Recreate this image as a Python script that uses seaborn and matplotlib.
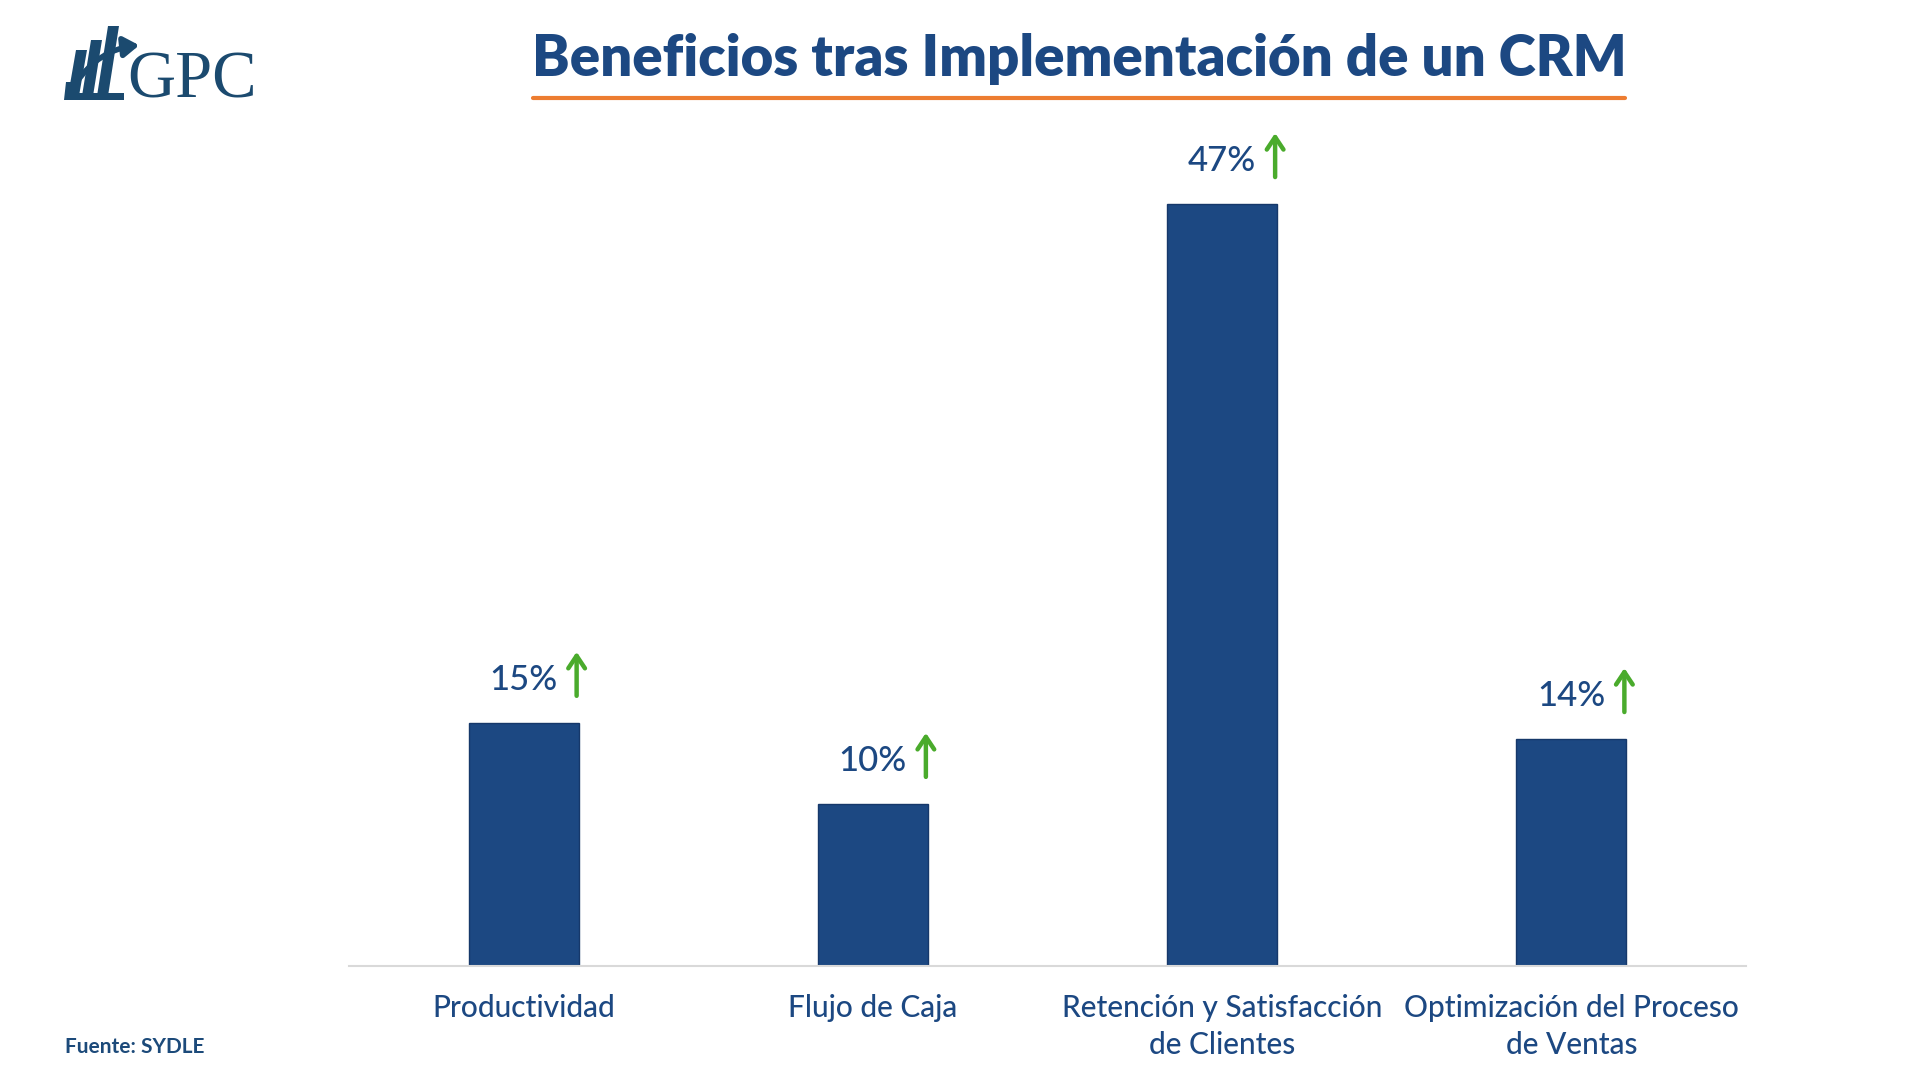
import numpy as np
import pandas as pd
import matplotlib.pyplot as plt
import seaborn as sns
from matplotlib.patches import Polygon, FancyArrowPatch
from matplotlib.lines import Line2D

# Data
categorias = ["Productividad", "Flujo de Caja",
              "Retención y Satisfacción\nde Clientes",
              "Optimización del Proceso\nde Ventas"]
valores = [15, 10, 47, 14]
etiquetas = ["15%", "10%", "47%", "14%"]

titulo = "Beneficios tras Implementación de un CRM"
fuente = "Fuente: SYDLE"

azul = "#1c4882"
verde = "#4aab2c"
naranja = "#ed7d31"
logo_col = "#1b4a6f"

sns.set_theme(style="white")
plt.rcParams['font.family'] = ['Lato', 'DejaVu Sans']

df = pd.DataFrame({"categoria": categorias, "valor": valores})

fig = plt.figure(figsize=(19.2, 10.8), dpi=100)
ax = fig.add_axes([349 / 1920, 1 - 966 / 1080, (1746 - 349) / 1920, (966 - 123) / 1080])

sns.barplot(data=df, x="categoria", y="valor", color=azul, width=0.315,
            saturation=1, edgecolor="#16386a", linewidth=1, ax=ax)

ax.set_xlim(-0.5, 3.5)
ax.set_ylim(0, 52)
ax.set_xlabel("")
ax.set_ylabel("")
ax.set_yticks([])
for s in ["top", "right", "left"]:
    ax.spines[s].set_visible(False)
ax.spines["bottom"].set_color("#d9d9d9")
ax.spines["bottom"].set_linewidth(1.5)
ax.tick_params(axis="x", length=0, pad=20, labelsize=21.5, labelcolor=azul)
for lbl in ax.get_xticklabels():
    lbl.set_linespacing(1.38)
    lbl.set_fontweight("medium")

# value labels + green arrows above bars (1 px = 0.72 pt at dpi 100)
inv = fig.transFigure.inverted()
for i, (v, t) in enumerate(zip(valores, etiquetas)):
    ax.annotate(t, xy=(i, v), xytext=(0, 43 * 0.72), textcoords="offset points",
                ha="center", va="center", fontsize=25, fontweight="medium", color=azul)
    x0, y0 = ax.transData.transform((i, v))
    base = inv.transform((x0 + 53, y0 + 27))
    tip = inv.transform((x0 + 53, y0 + 71))
    fig.add_artist(FancyArrowPatch(base, tip, transform=fig.transFigure,
                                   arrowstyle="->,head_length=9,head_width=6",
                                   color=verde, lw=3.2, mutation_scale=1,
                                   shrinkA=0, shrinkB=0))

# title and underline
fig.text(1079 / 1920, 1 - 59 / 1080, titulo, ha="center", va="center",
         fontsize=40.5, fontweight="heavy", color=azul)
fig.add_artist(Line2D([533 / 1920, 1625 / 1920], [1 - 98 / 1080, 1 - 98 / 1080],
                      transform=fig.transFigure, color=naranja, lw=3))

# source
fig.text(65 / 1920, 1 - 1047 / 1080, fuente, ha="left", va="center",
         fontsize=15, fontweight="bold", color="#1c4a7a")

# logo (GPC)
ov = fig.add_axes([0, 0, 1, 1], zorder=-1)
ov.set_xlim(0, 1920)
ov.set_ylim(1080, 0)
ov.axis("off")
fig.text(127 / 1920, 1 - 98 / 1080, "GPC", ha="left", va="baseline",
         fontsize=48, family="Liberation Serif", color=logo_col)
barras_logo = [[(68, 96), (79, 96), (87, 50), (76, 50)],
               [(82, 96), (93, 96), (102, 40), (91, 40)],
               [(97, 96), (108, 96), (119, 26), (108, 26)]]
for p in barras_logo:
    ov.add_patch(Polygon(p, closed=True, color=logo_col, lw=0))
ov.add_patch(Polygon([(64, 100), (124, 100), (124, 93), (71, 93), (73, 82), (66, 82)],
                     closed=True, color=logo_col, lw=0))
ov.add_artist(FancyArrowPatch((74, 86), (142, 45), connectionstyle="arc3,rad=-0.25",
                              arrowstyle="-|>,head_length=9,head_width=6",
                              color=logo_col, lw=4, mutation_scale=1))

fig.savefig("out.png", dpi=100, facecolor="white")
